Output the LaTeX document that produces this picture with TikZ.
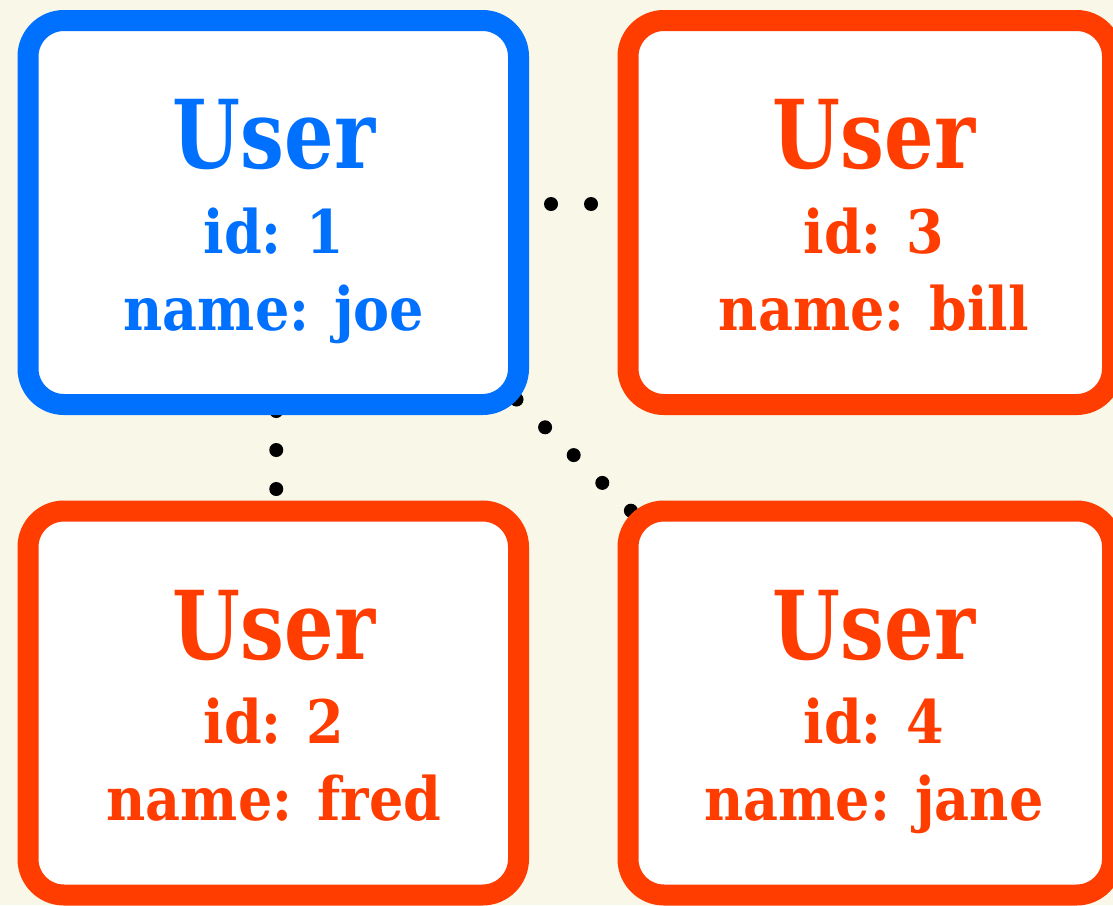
\documentclass[tikz,border=0pt]{standalone}
\usepackage{fontspec}
\newfontfamily\titleface[FakeStretch=0.82]{DejaVu Serif}
\newfontfamily\fieldface[FakeStretch=0.9]{DejaVu Serif}
\usetikzlibrary{calc}
\definecolor{cream}{HTML}{F9F7E7}
\definecolor{userblue}{HTML}{0070FF}
\definecolor{userred}{HTML}{FF3D00}
\pgfdeclarelayer{back}
\pgfdeclarelayer{links}
\pgfsetlayers{back,links,main}
\tikzset{
  card/.style={draw=#1, line width=21pt, fill=white, rounded corners=36pt,
    minimum height=384pt, outer sep=0pt, inner sep=0pt},
  title/.style={text=#1, anchor=base, inner sep=0pt,
    font=\titleface\bfseries\fontsize{95}{95}\selectfont},
  field/.style={text=#1, anchor=base, inner sep=0pt,
    font=\fieldface\bfseries\fontsize{60}{60}\selectfont},
  dotlink/.style={draw=black, line width=14pt, line cap=round,
    dash pattern=on 0pt off #1},
}
\begin{document}
\begin{tikzpicture}[x=1pt, y=-1pt]
\useasboundingbox (0,0) rectangle (1113,905);
\begin{pgfonlayer}{back}
  \fill[cream] (0,0) rectangle (1113,905);
\end{pgfonlayer}

% user cards
\node[card=userblue, minimum width=490.5pt] (u1) at (273.25,212.5) {};
\node[card=userred,  minimum width=490.5pt] (u2) at (273.25,703)   {};
\node[card=userred,  minimum width=484.5pt] (u3) at (870.25,212.5) {};
\node[card=userred,  minimum width=484.5pt] (u4) at (870.25,703)   {};

% card texts
\node[title=userblue] (u1t) at (274,168) {User};
\node[field=userblue] (u1i) at (274,253) {id: 1};
\node[field=userblue] (u1n) at (274,330) {name: joe};

\node[title=userred] (u3t) at (874,168) {User};
\node[field=userred] (u3i) at (874,253) {id: 3};
\node[field=userred] (u3n) at (874,330) {name: bill};

\node[title=userred] (u2t) at (274,659) {User};
\node[field=userred] (u2i) at (274,743) {id: 2};
\node[field=userred] (u2n) at (274,820) {name: fred};

\node[title=userred] (u4t) at (874,659) {User};
\node[field=userred] (u4i) at (874,743) {id: 4};
\node[field=userred] (u4n) at (874,820) {name: jane};

% dotted links, running underneath the cards
\begin{pgfonlayer}{links}
  \path[dotlink=40pt]    ($(u1.east)+(-7.5,-8.5)$) -- ($(u3.west)+(43,-8.5)$);
  \path[dotlink=39pt]    ($(u1.south)+(3,6.5)$) -- ($(u2.north)+(3,17)$);
  \path[dotlink=39.88pt] ($(u1.south east)+(-2,-5)$) -- ($(u4.north west)+(31.5,27.5)$);
\end{pgfonlayer}
\end{tikzpicture}
\end{document}
